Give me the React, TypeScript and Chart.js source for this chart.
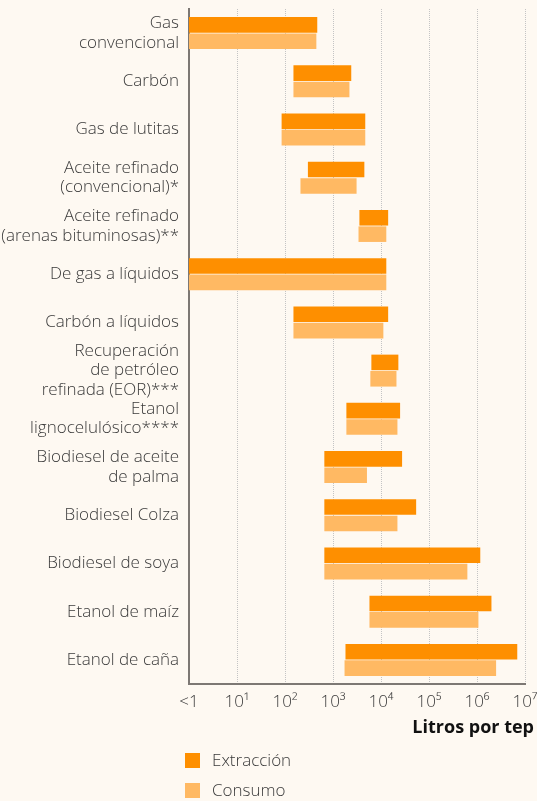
import React, { useEffect, useRef } from "react";
import { Chart, registerables } from "chart.js";

Chart.register(...registerables);

const categories: (string | string[])[] = [
  ["Gas", "convencional"],
  "Carbón",
  "Gas de lutitas",
  ["Aceite refinado", "(convencional)*"],
  ["Aceite refinado", "(arenas bituminosas)**"],
  "De gas a líquidos",
  "Carbón a líquidos",
  ["Recuperación", "de petróleo", "refinada (EOR)***"],
  ["Etanol", "lignocelulósico****"],
  ["Biodiesel de aceite", "de palma"],
  "Biodiesel Colza",
  "Biodiesel de soya",
  "Etanol de maíz",
  "Etanol de caña",
];

const extraccionMin = [1, 150, 85, 300, 3550, 1, 150, 6300, 1900, 660, 660, 660, 5750, 1820];
const extraccionMax = [470, 2400, 4700, 4500, 14100, 12900, 14100, 23000, 25000, 27500, 54000, 1170000, 2000000, 6900000];
const consumoMin = [1, 150, 85, 210, 3400, 1, 150, 6000, 1900, 660, 660, 660, 5750, 1740];
const consumoMax = [450, 2200, 4700, 3100, 12900, 12900, 11200, 21000, 22000, 5100, 22000, 630000, 1070000, 2500000];

const tickValues = [1, 10, 100, 1000, 10000, 100000, 1000000, 10000000];
const tickLabels = ["<1", "10¹", "10²", "10³", "10⁴", "10⁵", "10⁶", "10⁷"];
const seriesNames = ["Extracción", "Consumo"];
const axisTitle = "Litros por tep";

const EXT_COLOR = "#FE8F00";
const CON_COLOR = "#FFB963";
const BG = "#FEF9F2";
const FONT = "'Open Sans', 'DejaVu Sans', sans-serif";

const extrasPlugin = {
  id: "extras",
  afterDraw(chart: any) {
    const ctx = chart.ctx;
    const area = chart.chartArea;
    ctx.save();
    ctx.font = `bold 18px ${FONT}`;
    ctx.fillStyle = "#111111";
    ctx.textAlign = "right";
    ctx.textBaseline = "middle";
    ctx.fillText(axisTitle, area.right + 9, area.bottom + 44);
    chart.data.datasets.forEach((ds: any, i: number) => {
      const y = area.bottom + 69 + i * 30;
      ctx.fillStyle = ds.backgroundColor;
      ctx.fillRect(area.left - 4, y, 15, 15);
      ctx.fillStyle = "#3a3a3a";
      ctx.font = `300 17px ${FONT}`;
      ctx.textAlign = "left";
      ctx.textBaseline = "middle";
      ctx.fillText(ds.label, area.left + 23, y + 8);
    });
    ctx.restore();
  },
};

export default function App() {
  const canvasRef = useRef<HTMLCanvasElement | null>(null);

  useEffect(() => {
    if (!canvasRef.current) return;
    const chart = new Chart(canvasRef.current, {
      type: "bar",
      data: {
        labels: categories,
        datasets: [
          {
            label: seriesNames[0],
            data: extraccionMin.map((v, i) => [v, extraccionMax[i]]),
            backgroundColor: EXT_COLOR,
            borderWidth: 0,
            categoryPercentage: 0.68,
            barPercentage: 0.95,
          },
          {
            label: seriesNames[1],
            data: consumoMin.map((v, i) => [v, consumoMax[i]]),
            backgroundColor: CON_COLOR,
            borderWidth: 0,
            categoryPercentage: 0.68,
            barPercentage: 0.95,
          },
        ] as any,
      },
      options: {
        indexAxis: "y",
        responsive: true,
        maintainAspectRatio: false,
        animation: false,
        layout: { padding: { left: 0, right: 12, top: 9, bottom: 0 } },
        plugins: {
          legend: { display: false },
          tooltip: { enabled: false },
        },
        scales: {
          x: {
            type: "logarithmic",
            min: 1,
            max: 10000000,
            afterBuildTicks: (scale: any) => {
              scale.ticks = tickValues.map((v) => ({ value: v }));
            },
            afterFit: (scale: any) => {
              scale.height = 117;
              scale.paddingLeft = 0;
              scale.paddingRight = 0;
            },
            ticks: {
              autoSkip: false,
              maxRotation: 0,
              padding: 8,
              color: "#3a3a3a",
              font: { family: FONT, size: 17, weight: "300" },
              callback: (value: any) => {
                const idx = tickValues.indexOf(Number(value));
                return idx >= 0 ? tickLabels[idx] : "";
              },
            },
            grid: {
              color: "#C4C4C4",
              lineWidth: 1,
              drawTicks: false,
            },
            border: { display: true, color: "#7D7874", width: 2, dash: [1, 1] },
          },
          y: {
            afterFit: (scale: any) => {
              scale.width = 189;
              scale.paddingTop = 0;
              scale.paddingBottom = 0;
            },
            ticks: {
              autoSkip: false,
              padding: 10,
              color: "#3a3a3a",
              font: { family: FONT, size: 17, weight: "300", lineHeight: 1.15 },
            },
            grid: { display: false, drawTicks: false },
            border: { display: true, color: "#7D7874", width: 2 },
          },
        },
      },
      plugins: [extrasPlugin],
    } as any);
    return () => chart.destroy();
  }, []);

  return (
    <div
      style={{
        position: "absolute",
        left: 0,
        top: 0,
        width: 537,
        height: 801,
        background: BG,
      }}
    >
      <canvas ref={canvasRef} />
    </div>
  );
}
